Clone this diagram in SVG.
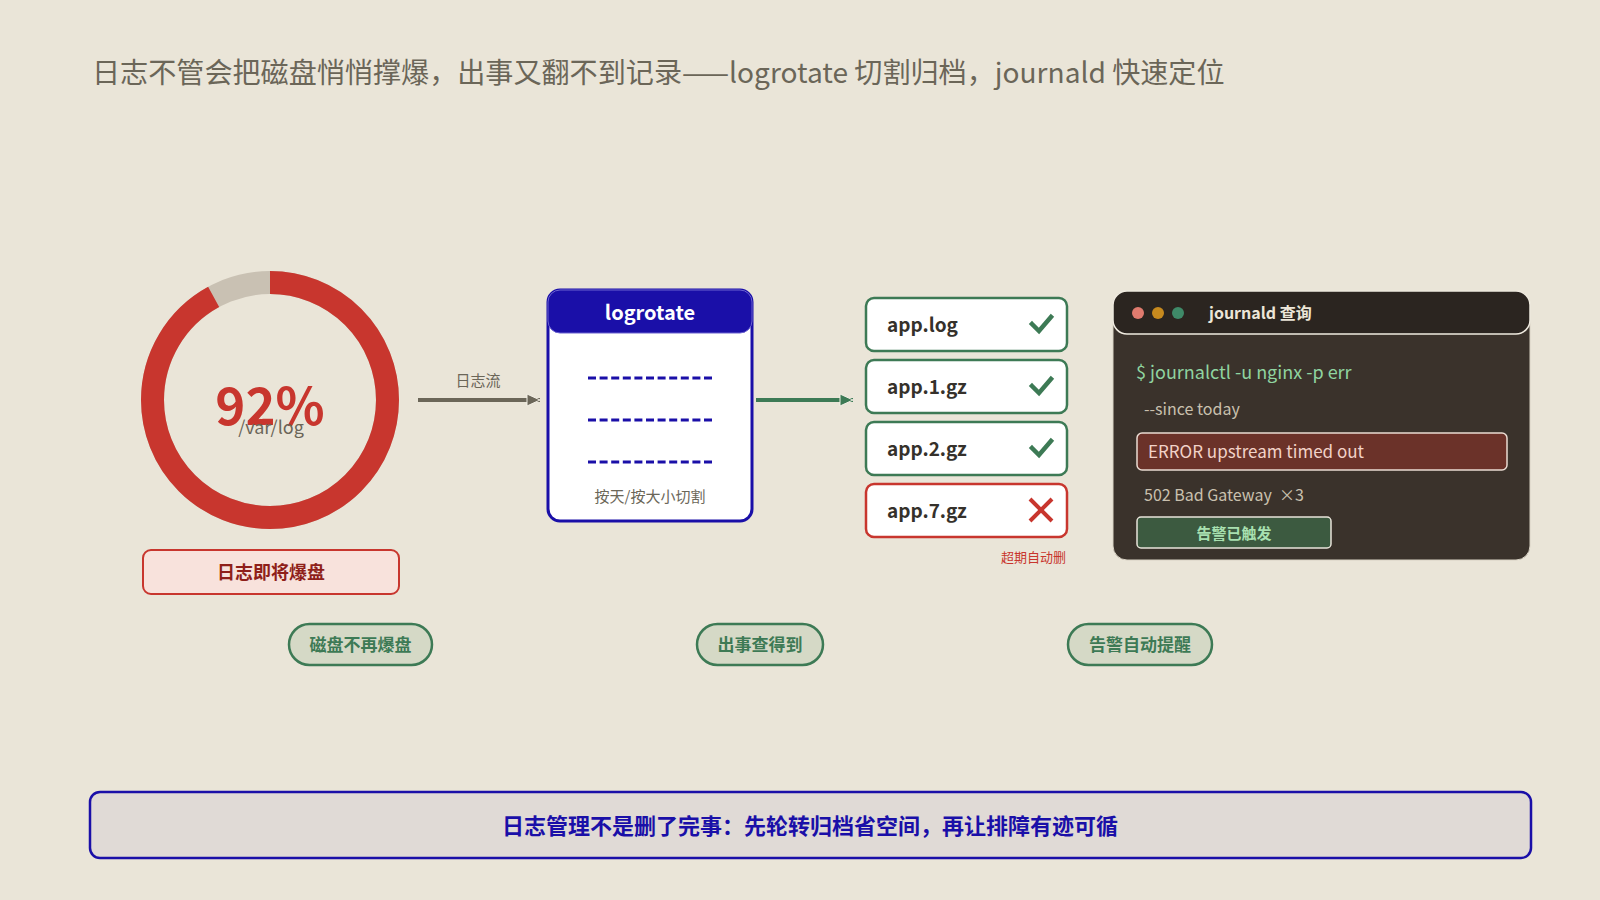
<svg xmlns="http://www.w3.org/2000/svg" width="1600" height="900" viewBox="0 0 1600 900">
<defs>
<style>
text{font-family:"Noto Sans CJK SC","Noto Sans",sans-serif}
.file{fill:#ffffff;stroke:#3d7a55;stroke-width:2.5}
.fname{font-size:19px;font-weight:700;fill:#35312b}
.pill{fill:#d5d9c6;stroke:#3d7a55;stroke-width:2.5}
.pillt{font-size:17px;font-weight:700;fill:#3d7a55;text-anchor:middle}
.dash{stroke:#1a0fa8;stroke-width:3;stroke-dasharray:8 3.6}
.chk{fill:none;stroke:#3d7a55;stroke-width:4.5;stroke-linecap:square}
</style>
<marker id="ahGray" markerUnits="userSpaceOnUse" markerWidth="16" markerHeight="16" refX="14" refY="7" orient="auto">
<path d="M1,1 L14,7 L1,13 Z" fill="#6b6658" stroke="#f4f0e6" stroke-width="1"/>
</marker>
<marker id="ahGreen" markerUnits="userSpaceOnUse" markerWidth="16" markerHeight="16" refX="14" refY="7" orient="auto">
<path d="M1,1 L14,7 L1,13 Z" fill="#3d7a55" stroke="#f4f0e6" stroke-width="1"/>
</marker>
</defs>
<rect x="0" y="0" width="1600" height="900" fill="#eae5d8"/>
<text x="92" y="83" font-size="28.1" fill="#6b6658">日志不管会把磁盘悄悄撑爆，出事又翻不到记录——logrotate 切割归档，journald 快速定位</text>

<g id="disk">
<circle cx="270" cy="400" r="117.5" fill="none" stroke="#c9c1b3" stroke-width="23"/>
<circle cx="270" cy="400" r="117.5" fill="none" stroke="#c8362e" stroke-width="23" stroke-dasharray="679.2 59.1" transform="rotate(-90 270 400)"/>
<text x="270" y="425" font-size="51" font-weight="700" fill="#c8362e" text-anchor="middle">92%</text>
<text x="271" y="434" font-size="18" fill="#6b6658" text-anchor="middle">/var/log</text>
</g>
<g id="disk-warning">
<rect x="143" y="550" width="256" height="44" rx="8" fill="#f8e2dc" stroke="#c8362e" stroke-width="2"/>
<text x="271" y="579" font-size="18" font-weight="700" fill="#8f1f1a" text-anchor="middle">日志即将爆盘</text>
</g>

<g id="connectors">
<line x1="418" y1="400" x2="540" y2="400" stroke="#6b6658" stroke-width="4" marker-end="url(#ahGray)"/>
<text x="478" y="386" font-size="15" fill="#6b6658" text-anchor="middle">日志流</text>
<line x1="756" y1="400" x2="853" y2="400" stroke="#3d7a55" stroke-width="4" marker-end="url(#ahGreen)"/>
</g>

<g id="logrotate">
<rect x="548" y="290" width="204" height="231" rx="12" fill="#ffffff" stroke="#1a0fa8" stroke-width="3"/>
<rect x="548" y="290" width="204" height="43" rx="12" fill="#1a0fa8" stroke="#6b62d0" stroke-width="1"/>
<text x="650" y="320" font-size="20" font-weight="700" fill="#ffffff" text-anchor="middle">logrotate</text>
<line class="dash" x1="588" y1="378" x2="713" y2="378"/>
<line class="dash" x1="588" y1="420" x2="713" y2="420"/>
<line class="dash" x1="588" y1="462" x2="713" y2="462"/>
<text x="650" y="502" font-size="15" fill="#6b6658" text-anchor="middle">按天/按大小切割</text>
</g>

<g id="file-applog">
<rect class="file" x="866" y="298" width="201" height="53" rx="8"/>
<text class="fname" x="887" y="332">app.log</text>
<path class="chk" d="M1032,324 L1039,331 L1051,317"/>
</g>
<g id="file-app1">
<rect class="file" x="866" y="360" width="201" height="53" rx="8"/>
<text class="fname" x="887" y="394">app.1.gz</text>
<path class="chk" d="M1032,386 L1039,393 L1051,379"/>
</g>
<g id="file-app2">
<rect class="file" x="866" y="422" width="201" height="53" rx="8"/>
<text class="fname" x="887" y="456">app.2.gz</text>
<path class="chk" d="M1032,448 L1039,455 L1051,441"/>
</g>
<g id="file-app7">
<rect x="866" y="484" width="201" height="53" rx="8" fill="#ffffff" stroke="#c8362e" stroke-width="2.5"/>
<text class="fname" x="887" y="518">app.7.gz</text>
<path d="M1030,499 L1052,521 M1052,499 L1030,521" stroke="#c8362e" stroke-width="4" fill="none"/>
<text x="1066" y="562" font-size="13" fill="#c8362e" text-anchor="end">超期自动删</text>
</g>

<g id="journald">
<rect x="1113" y="291" width="417" height="269" rx="14" fill="#3a322b" stroke="#d8d2c4" stroke-width="1"/>
<rect x="1113" y="291" width="417" height="43" rx="14" fill="#2b2520" stroke="#f0ebe0" stroke-width="1.5"/>
<circle cx="1138" cy="313" r="6" fill="#e07b6e"/>
<circle cx="1158" cy="313" r="6" fill="#c78a1e"/>
<circle cx="1178" cy="313" r="6" fill="#3f8a68"/>
<text x="1209" y="319" font-size="16" font-weight="700" fill="#ece6d8">journald 查询</text>
<text x="1136" y="379" font-size="18" fill="#8fd4a0">$ journalctl -u nginx -p err</text>
<text x="1144" y="415" font-size="16" fill="#c9c0ae">--since today</text>
<rect x="1137" y="433" width="370" height="37" rx="5" fill="#6b3229" stroke="#eadbd2" stroke-width="1.5"/>
<text x="1148" y="458" font-size="17" fill="#f2d2c8">ERROR upstream timed out</text>
<text x="1144" y="501" font-size="16" fill="#c9c0ae">502 Bad Gateway&#160; ×3</text>
<rect x="1137" y="517" width="194" height="31" rx="4" fill="#3c5a40" stroke="#e8e4da" stroke-width="1.5"/>
<text x="1234" y="539" font-size="15" font-weight="700" fill="#a8e0b0" text-anchor="middle">告警已触发</text>
</g>

<g id="pill-disk">
<rect class="pill" x="289" y="624" width="143" height="41" rx="20.5"/>
<text class="pillt" x="360.5" y="651">磁盘不再爆盘</text>
</g>
<g id="pill-find">
<rect class="pill" x="697" y="624" width="126" height="41" rx="20.5"/>
<text class="pillt" x="760" y="651">出事查得到</text>
</g>
<g id="pill-alert">
<rect class="pill" x="1068" y="624" width="144" height="41" rx="20.5"/>
<text class="pillt" x="1140" y="651">告警自动提醒</text>
</g>

<g id="banner">
<rect x="90" y="792" width="1441" height="66" rx="10" fill="#e0dad6" stroke="#1a0fa8" stroke-width="2.5"/>
<text x="810" y="834" font-size="22" font-weight="700" fill="#1a0fa8" text-anchor="middle">日志管理不是删了完事：先轮转归档省空间，再让排障有迹可循</text>
</g>
</svg>
